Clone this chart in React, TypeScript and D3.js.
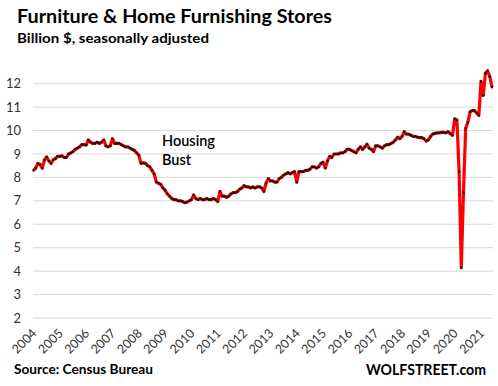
// Furniture & home furnishing store sales, monthly, 2004 - mid 2021
import * as d3 from 'd3'

const title = 'Furniture & Home Furnishing Stores'
const subtitle = 'Billion $, seasonally adjusted'
const source = 'Source: Census Bureau'
const brand = 'WOLFSTREET.com'

const yearLabels = [
  '2004', '2005', '2006', '2007', '2008', '2009', '2010', '2011', '2012',
  '2013', '2014', '2015', '2016', '2017', '2018', '2019', '2020', '2021'
]

const yTicks = [2, 3, 4, 5, 6, 7, 8, 9, 10, 11, 12]

// monthly values, Jan 2004 .. Jun 2021 (billion $)
const sales = [
  8.3, 8.4, 8.6, 8.55, 8.4, 8.75, 8.87, 8.7, 8.6, 8.75, 8.8, 8.9,
  8.9, 8.92, 8.85, 8.85, 9.0, 9.05, 9.1, 9.2, 9.25, 9.3, 9.4, 9.4,
  9.38, 9.6, 9.5, 9.45, 9.45, 9.5, 9.45, 9.5, 9.6, 9.35, 9.3, 9.35,
  9.65, 9.45, 9.45, 9.45, 9.4, 9.35, 9.3, 9.3, 9.25, 9.2, 9.15, 9.05,
  8.95, 8.6, 8.62, 8.6, 8.5, 8.45, 8.3, 8.15, 7.8, 7.75, 7.7, 7.55,
  7.45, 7.3, 7.2, 7.1, 7.05, 7.05, 7.0, 7.0, 6.97, 6.92, 6.95, 7.0,
  7.05, 7.25, 7.1, 7.05, 7.1, 7.05, 7.05, 7.1, 7.05, 7.05, 7.1, 7.05,
  6.97, 7.4, 7.2, 7.2, 7.15, 7.2, 7.3, 7.35, 7.35, 7.4, 7.5, 7.55,
  7.65, 7.6, 7.6, 7.55, 7.6, 7.55, 7.6, 7.6, 7.55, 7.4, 7.75, 7.95,
  7.85, 7.85, 7.8, 7.8, 7.95, 8.0, 8.1, 8.15, 8.2, 8.15, 8.2, 8.25,
  7.8, 8.25, 8.25, 8.25, 8.3, 8.3, 8.35, 8.45, 8.45, 8.4, 8.45, 8.6,
  8.65, 8.4, 8.7, 8.9, 8.85, 9.0, 9.0, 9.0, 9.05, 9.05, 9.1, 9.2,
  9.2, 9.15, 9.1, 9.05, 9.2, 9.3, 9.2, 9.3, 9.42, 9.25, 9.2, 9.1,
  9.35, 9.35, 9.3, 9.25, 9.35, 9.4, 9.4, 9.45, 9.5, 9.6, 9.72, 9.65,
  9.75, 9.95, 9.85, 9.85, 9.8, 9.75, 9.75, 9.72, 9.7, 9.7, 9.65, 9.55,
  9.6, 9.75, 9.85, 9.88, 9.9, 9.9, 9.92, 9.92, 9.9, 9.95, 9.87, 9.8,
  10.5, 10.45, 8.25, 4.15, 7.35, 10.1, 10.35, 10.8, 10.85, 10.85, 10.75, 10.65,
  12.1, 11.5, 12.45, 12.55, 12.3, 11.85
]

const width = 498
const height = 386
const font = 'Lato, "Open Sans", sans-serif'

export default function App() {
  const x = d3.scaleLinear().domain([0, sales.length - 1]).range([33.5, 492])
  const y = d3.scaleLinear().domain([2, 12]).range([318, 83.7])

  const line = d3.line<number>()
    .x((_, i) => x(i))
    .y(d => y(d))

  return (
    <svg width={width} height={height} style={{ position: 'absolute', left: 0, top: 0, background: '#fff' }}
      fontFamily={font}>
      {/* titles */}
      <text x={17} y={23} fontSize={18.5} fontWeight={700} fill="#000" textLength={315} lengthAdjust="spacingAndGlyphs">{title}</text>
      <text x={17} y={43} fontSize={14} fontWeight={700} fill="#000" textLength={192} lengthAdjust="spacingAndGlyphs">{subtitle}</text>

      {/* grid */}
      {yTicks.map(t => (
        <g key={t}>
          <line x1={33} x2={493} y1={y(t)} y2={y(t)} stroke="#d9d9d9" strokeWidth={1} />
          <text x={21} y={y(t)} dy="0.35em" textAnchor="end" fontSize={13} fill="#333">{t}</text>
        </g>
      ))}

      {/* year labels */}
      {yearLabels.map((lab, k) => (
        <text key={lab} transform={`translate(${x(k * 12) + 4},${334}) rotate(-45)`}
          textAnchor="end" fontSize={12.5} fill="#333">{lab}</text>
      ))}

      {/* annotation */}
      <text x={162} y={146} fontSize={14.5} fontWeight={600} fill="#000">Housing</text>
      <text x={162} y={165} fontSize={14.5} fontWeight={600} fill="#000">Bust</text>

      {/* series */}
      <path d={line(sales) ?? ''} fill="none" stroke="#ff0000" strokeWidth={3.2} strokeLinejoin="round" />
      {sales.map((v, i) => (
        <rect key={i} x={x(i) - 1.1} y={y(v) - 1.1} width={2.2} height={2.2} fill="#111" />
      ))}

      {/* footer */}
      <text x={14} y={374} fontSize={14} fontWeight={700} fill="#000" textLength={139} lengthAdjust="spacingAndGlyphs">{source}</text>
      <text x={366} y={375} fontSize={14.5} fontWeight={700} fill="#000" textLength={120} lengthAdjust="spacingAndGlyphs">{brand}</text>
    </svg>
  )
}
